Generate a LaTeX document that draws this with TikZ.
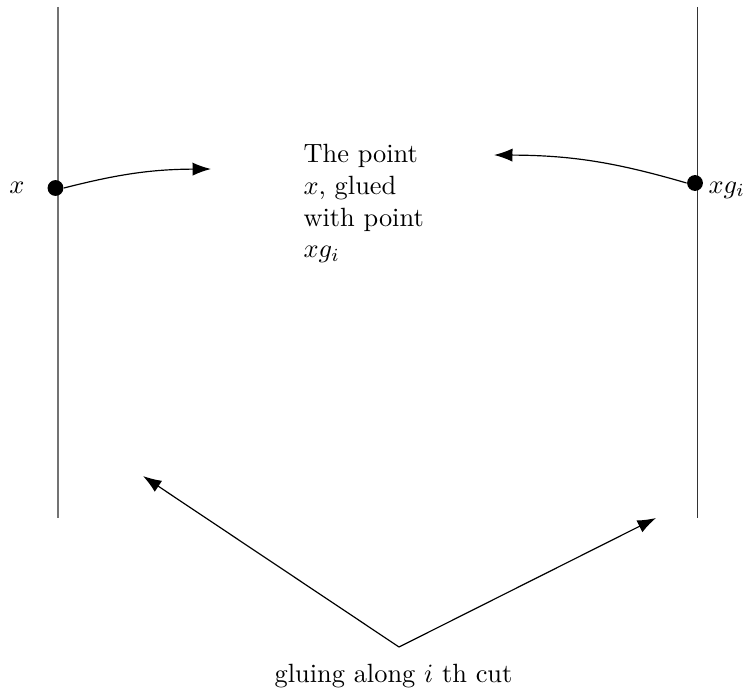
\documentclass[tikz,border=0pt]{standalone}
\usetikzlibrary{arrows.meta}
\begin{document}
\begin{tikzpicture}[x=0.379pt,y=-0.379pt,
  wall/.style={line width=0.7pt},
  dotnode/.style={circle,fill=black,inner sep=0pt,minimum size=6pt},
  arr/.style={-{Latex[length=7pt,width=5pt]},line width=0.45pt}]
\useasboundingbox (0,0) rectangle (743,690);
% walls
\coordinate (lt) at (58,7);
\coordinate (lb) at (58,518);
\coordinate (rt) at (697.5,7);
\coordinate (rb) at (697.5,518);
\draw[wall,draw=black!55] (lt) -- (lb);
\draw[wall,draw=black!80] (rt) -- (rb);
% points
\node[dotnode] (px) at (55.5,188) {};
\node[dotnode] (pxg) at (695,183) {};
\node[anchor=base,inner sep=0pt] (lx) at (17,193) {$x$};
\node[anchor=base west,inner sep=0pt] (lxg) at (708,193) {$xg_i$};
% middle text
\node[anchor=north west,inner sep=0pt,text width=60pt,align=left] (txt) at (303,144)
  {The point\\ $x$, glued\\ with point\\ $xg_i$};
% curved arrows
\coordinate (ta) at (211,169);
\coordinate (tb) at (494,155);
\draw[arr] (px.east) to[bend left=7] (ta);
\draw[arr] (pxg.west) to[bend right=8] (tb);
% bottom
\coordinate (v) at (399,647);
\coordinate (tl) at (143,476);
\coordinate (tr) at (656,518);
\draw[arr] (v) -- (tl);
\draw[arr] (v) -- (tr);
\node[anchor=base,inner sep=0pt] (lab) at (393.5,682) {gluing along $i$ th cut};
\end{tikzpicture}
\end{document}
